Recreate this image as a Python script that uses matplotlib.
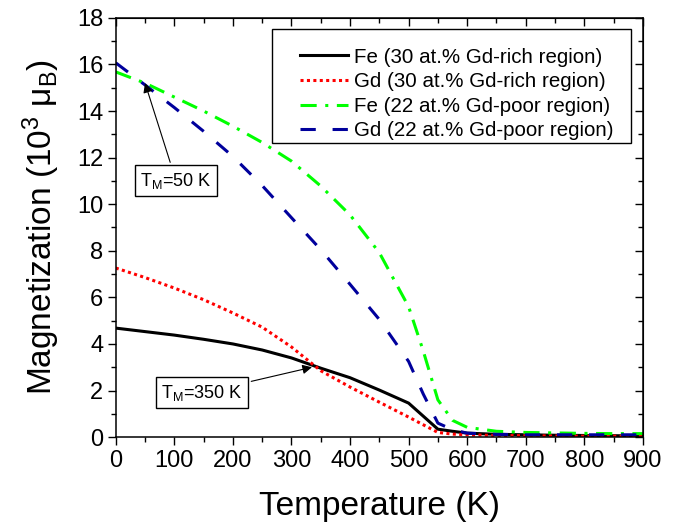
import matplotlib
matplotlib.use("Agg")
import matplotlib.pyplot as plt
from matplotlib.ticker import MultipleLocator
from matplotlib.patches import Rectangle

plt.rcParams['font.family'] = ['Liberation Sans', 'DejaVu Sans']
plt.rcParams['mathtext.fontset'] = 'custom'
plt.rcParams['mathtext.rm'] = 'Liberation Sans'
plt.rcParams['mathtext.it'] = 'Liberation Sans:italic'

# Data
T = [0, 50, 100, 150, 200, 250, 300, 350, 400, 450, 500, 525, 550, 575, 600,
     650, 700, 750, 800, 850, 900]
fe_rich = [4.68, 4.53, 4.38, 4.20, 4.00, 3.74, 3.40, 2.96, 2.55, 2.02, 1.46, 0.90,
           0.34, 0.25, 0.17, 0.12, 0.10, 0.08, 0.07, 0.06, 0.05]
gd_rich = [7.26, 6.85, 6.40, 5.90, 5.33, 4.72, 3.87, 2.85, 2.15, 1.50, 0.86, 0.53,
           0.20, 0.13, 0.10, 0.07, 0.06, 0.05, 0.04, 0.04, 0.03]
fe_poor = [15.68, 15.20, 14.60, 14.00, 13.35, 12.65, 11.85, 10.78, 9.54, 7.92, 5.60, 3.70,
           1.60, 0.72, 0.42, 0.25, 0.20, 0.18, 0.16, 0.15, 0.15]
gd_poor = [16.07, 15.12, 14.15, 13.13, 12.05, 10.80, 9.42, 8.05, 6.56, 5.05, 3.25, 1.85,
           0.60, 0.32, 0.17, 0.12, 0.10, 0.10, 0.10, 0.10, 0.10]

labels = ['Fe (30 at.% Gd-rich region)', 'Gd (30 at.% Gd-rich region)',
          'Fe (22 at.% Gd-poor region)', 'Gd (22 at.% Gd-poor region)']

fig = plt.figure(figsize=(6.81, 5.26), dpi=100)
ax = fig.add_axes([0.170, 0.169, 0.774, 0.797])

lw = 2.2
ax.plot(T, fe_rich, color='black', lw=lw, label=labels[0])
ax.plot(T, gd_rich, color='#ff0000', lw=lw, linestyle=(0, (1, 1.1)), label=labels[1])
ax.plot(T, fe_poor, color='#00ff00', lw=lw, linestyle=(0, (5.3, 2.8, 1, 2.8)), label=labels[2])
ax.plot(T, gd_poor, color='#00009c', lw=lw, linestyle=(0, (5, 5.5)), label=labels[3])

ax.set_xlim(0, 900)
ax.set_ylim(0, 18)
ax.xaxis.set_major_locator(MultipleLocator(100))
ax.xaxis.set_minor_locator(MultipleLocator(50))
ax.yaxis.set_major_locator(MultipleLocator(2))
ax.yaxis.set_minor_locator(MultipleLocator(1))
ax.tick_params(which='major', direction='out', length=6, width=1.0, labelsize=17, pad=3)
ax.tick_params(which='minor', direction='out', length=3.5, width=1.0)
for s in ax.spines.values():
    s.set_linewidth(1.1)

top = ax.secondary_xaxis('top')
top.xaxis.set_major_locator(MultipleLocator(100))
top.xaxis.set_minor_locator(MultipleLocator(50))
top.tick_params(which='major', direction='in', length=6, width=1.0, labeltop=False)
top.tick_params(which='minor', direction='in', length=3.5, width=1.0)
right = ax.secondary_yaxis('right')
right.yaxis.set_major_locator(MultipleLocator(2))
right.yaxis.set_minor_locator(MultipleLocator(1))
right.tick_params(which='major', direction='in', length=6, width=1.0, labelright=False)
right.tick_params(which='minor', direction='in', length=3.5, width=1.0)

ax.set_xlabel('Temperature (K)', fontsize=24, labelpad=14)
ax.set_ylabel('Magnetization (10$^{3}$ μ$_\\mathregular{B}$)', fontsize=24, labelpad=11)

# legend frame drawn separately
ax.add_patch(Rectangle((0.296, 0.702), 0.681, 0.272, transform=ax.transAxes,
                       fc='white', ec='black', lw=1.0, zorder=4))
leg = ax.legend(loc='upper left', bbox_to_anchor=(0.349, 0.929), borderaxespad=0,
                fontsize=14.8, frameon=False,
                handlelength=2.35, handletextpad=0.3, labelspacing=0.27, borderpad=0)
leg.set_zorder(5)

box = dict(boxstyle='square,pad=0.3', fc='white', ec='black', lw=1.0)
arrow = dict(arrowstyle='-|>', color='black', lw=0.8, mutation_scale=14, shrinkB=0)
ax.annotate('T$_\\mathregular{M}$=50 K', xy=(50, 15.2), xytext=(103, 11.0),
            fontsize=13, ha='center', va='center', bbox=box, arrowprops=arrow)
ax.annotate('T$_\\mathregular{M}$=350 K', xy=(335, 3.0), xytext=(147, 1.9),
            fontsize=13, ha='center', va='center', bbox=box, arrowprops=arrow)

fig.savefig('out.png', dpi=100)
